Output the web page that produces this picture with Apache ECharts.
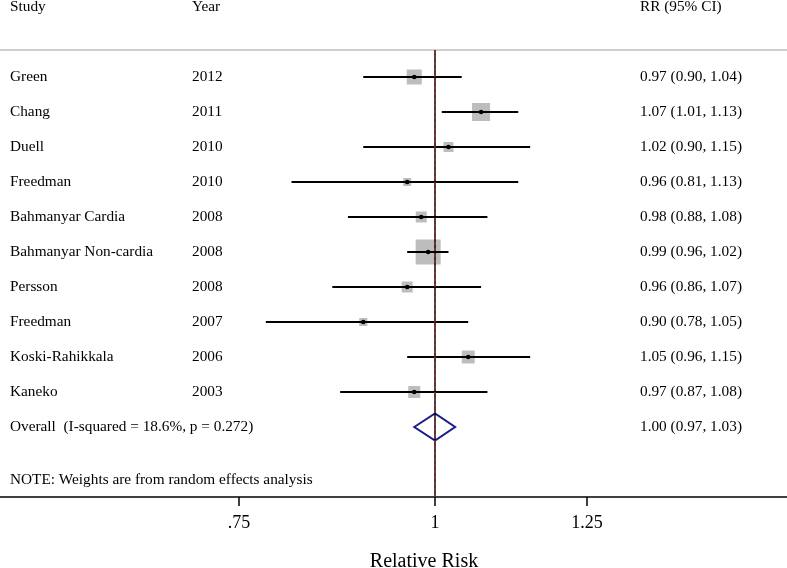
<!DOCTYPE html>
<html><head><meta charset="utf-8">
<script src="https://cdn.jsdelivr.net/npm/echarts@6/dist/echarts.min.js"></script>
<style>html,body{margin:0;padding:0;background:#fff;overflow:hidden}#c{width:787px;height:568px}</style>
</head><body><div id="c"></div>
<script>
// ---- data ----
const headers = ['Study', 'Year', 'RR (95% CI)'];
const studies = ['Green', 'Chang', 'Duell', 'Freedman', 'Bahmanyar Cardia', 'Bahmanyar Non-cardia', 'Persson', 'Freedman', 'Koski-Rahikkala', 'Kaneko'];
const years = ['2012', '2011', '2010', '2010', '2008', '2008', '2008', '2007', '2006', '2003'];
const rr = [0.97, 1.07, 1.02, 0.96, 0.98, 0.99, 0.96, 0.90, 1.05, 0.97];
const lower = [0.90, 1.01, 0.90, 0.81, 0.88, 0.96, 0.86, 0.78, 0.96, 0.87];
const upper = [1.04, 1.13, 1.15, 1.13, 1.08, 1.02, 1.07, 1.05, 1.15, 1.08];
const weights = [11.5, 16.6, 5.1, 3.3, 6.2, 31.9, 6.2, 3.3, 8.6, 7.4];
const overallRR = [1.00];
const overallLower = [0.97];
const overallUpper = [1.03];
const overallLabel = 'Overall  (I-squared = 18.6%, p = 0.272)';
const noteText = 'NOTE: Weights are from random effects analysis';
const tickValues = [0.75, 1, 1.25];
const tickLabels = ['.75', '1', '1.25'];
const axisTitle = 'Relative Risk';

// ---- layout / helpers ----
const L = Math.log;
const FONT = '"Liberation Serif", "Times New Roman", serif';
const headerRow = -2, topLineRow = -0.77, overallRow = studies.length, noteRow = studies.length + 1.5, axisRow = 12;
const colX = [10, 192, 640];
const ciText = (r, l, u) => r.toFixed(2) + ' (' + l.toFixed(2) + ', ' + u.toFixed(2) + ')';
const maxW = Math.max(...weights);
const maxBox = 25;

const textRows = [{ row: headerRow, cols: headers }];
studies.forEach((s, i) => textRows.push({ row: i, cols: [s, years[i], ciText(rr[i], lower[i], upper[i])] }));
textRows.push({ row: overallRow, cols: [overallLabel, '', ciText(overallRR[0], overallLower[0], overallUpper[0])] });
textRows.push({ row: noteRow, cols: [noteText, '', ''] });

const xMin = -0.6388, xMax = 0.5169;

const chart = echarts.init(document.getElementById('c'));
chart.setOption({
  animation: false,
  grid: { left: 0, right: 0, top: 7, bottom: 71, containLabel: false, outerBoundsMode: 'none' },
  xAxis: {
    type: 'value', min: xMin, max: xMax,
    axisLine: { onZero: false, lineStyle: { color: '#000', width: 1.5 } },
    axisTick: { customValues: tickValues.map(L), length: 9, lineStyle: { color: '#000', width: 1.5 } },
    axisLabel: {
      customValues: tickValues.map(L), margin: 17, fontFamily: FONT, fontSize: 18, color: '#000',
      formatter: v => { const k = tickValues.findIndex(t => Math.abs(L(t) - v) < 1e-6); return k >= 0 ? tickLabels[k] : ''; }
    },
    splitLine: { show: false },
    name: axisTitle, nameLocation: 'middle', nameGap: 55,
    nameTextStyle: { fontFamily: FONT, fontSize: 20, color: '#000', padding: [0, 0, 0, 61] }
  },
  yAxis: { type: 'value', inverse: true, min: headerRow, max: axisRow, show: false },
  series: [
    { // top rule
      type: 'line', silent: true, symbol: 'none',
      data: [[xMin, topLineRow], [xMax, topLineRow]],
      lineStyle: { color: '#cfcfcf', width: 2 }
    },
    { // null line
      type: 'line', silent: true, symbol: 'none',
      data: [[L(1), topLineRow], [L(1), axisRow]],
      lineStyle: { color: '#000', width: 1.5 }
    },
    { // overall effect line
      type: 'line', silent: true, symbol: 'none',
      data: [[L(overallRR[0]), topLineRow], [L(overallRR[0]), axisRow]],
      lineStyle: { color: '#a3302e', width: 1.3, type: [3, 3] }
    },
    { // studies
      type: 'custom', silent: true,
      data: rr.map((v, i) => [L(v), i, L(lower[i]), L(upper[i]), weights[i]]),
      encode: { x: 0, y: 1 },
      renderItem: (params, api) => {
        const c = api.coord([api.value(0), api.value(1)]);
        const lo = api.coord([api.value(2), api.value(1)]);
        const hi = api.coord([api.value(3), api.value(1)]);
        const s = maxBox * Math.sqrt(api.value(4) / maxW);
        return {
          type: 'group', children: [
            { type: 'rect', shape: { x: c[0] - s / 2, y: c[1] - s / 2, width: s, height: s }, style: { fill: '#bdbdbd' } },
            { type: 'line', shape: { x1: lo[0], y1: c[1], x2: hi[0], y2: c[1] }, style: { stroke: '#000', lineWidth: 2 } },
            { type: 'circle', shape: { cx: c[0], cy: c[1], r: 2.3 }, style: { fill: '#000' } }
          ]
        };
      }
    },
    { // overall diamond
      type: 'custom', silent: true,
      data: [[L(overallRR[0]), overallRow, L(overallLower[0]), L(overallUpper[0])]],
      encode: { x: 0, y: 1 },
      renderItem: (params, api) => {
        const c = api.coord([api.value(0), api.value(1)]);
        const lo = api.coord([api.value(2), api.value(1)]);
        const hi = api.coord([api.value(3), api.value(1)]);
        const top = api.coord([api.value(0), api.value(1) - 0.385]);
        const bot = api.coord([api.value(0), api.value(1) + 0.385]);
        return {
          type: 'polygon',
          shape: { points: [[lo[0], c[1]], [c[0], top[1]], [hi[0], c[1]], [c[0], bot[1]]] },
          style: { fill: 'none', stroke: '#1c1c8a', lineWidth: 2 }
        };
      }
    },
    { // text columns
      type: 'custom', silent: true,
      data: textRows.map(r => [0, r.row]),
      encode: { x: 0, y: 1 },
      renderItem: (params, api) => {
        const y = api.coord([0, api.value(1)])[1];
        const cols = textRows[params.dataIndex].cols;
        return {
          type: 'group',
          children: cols.map((t, k) => ({
            type: 'text',
            style: { x: colX[k], y: y, text: t, fill: '#000', font: '15.3px ' + FONT, align: 'left', verticalAlign: 'middle' }
          }))
        };
      }
    }
  ]
});
</script>
</body></html>
